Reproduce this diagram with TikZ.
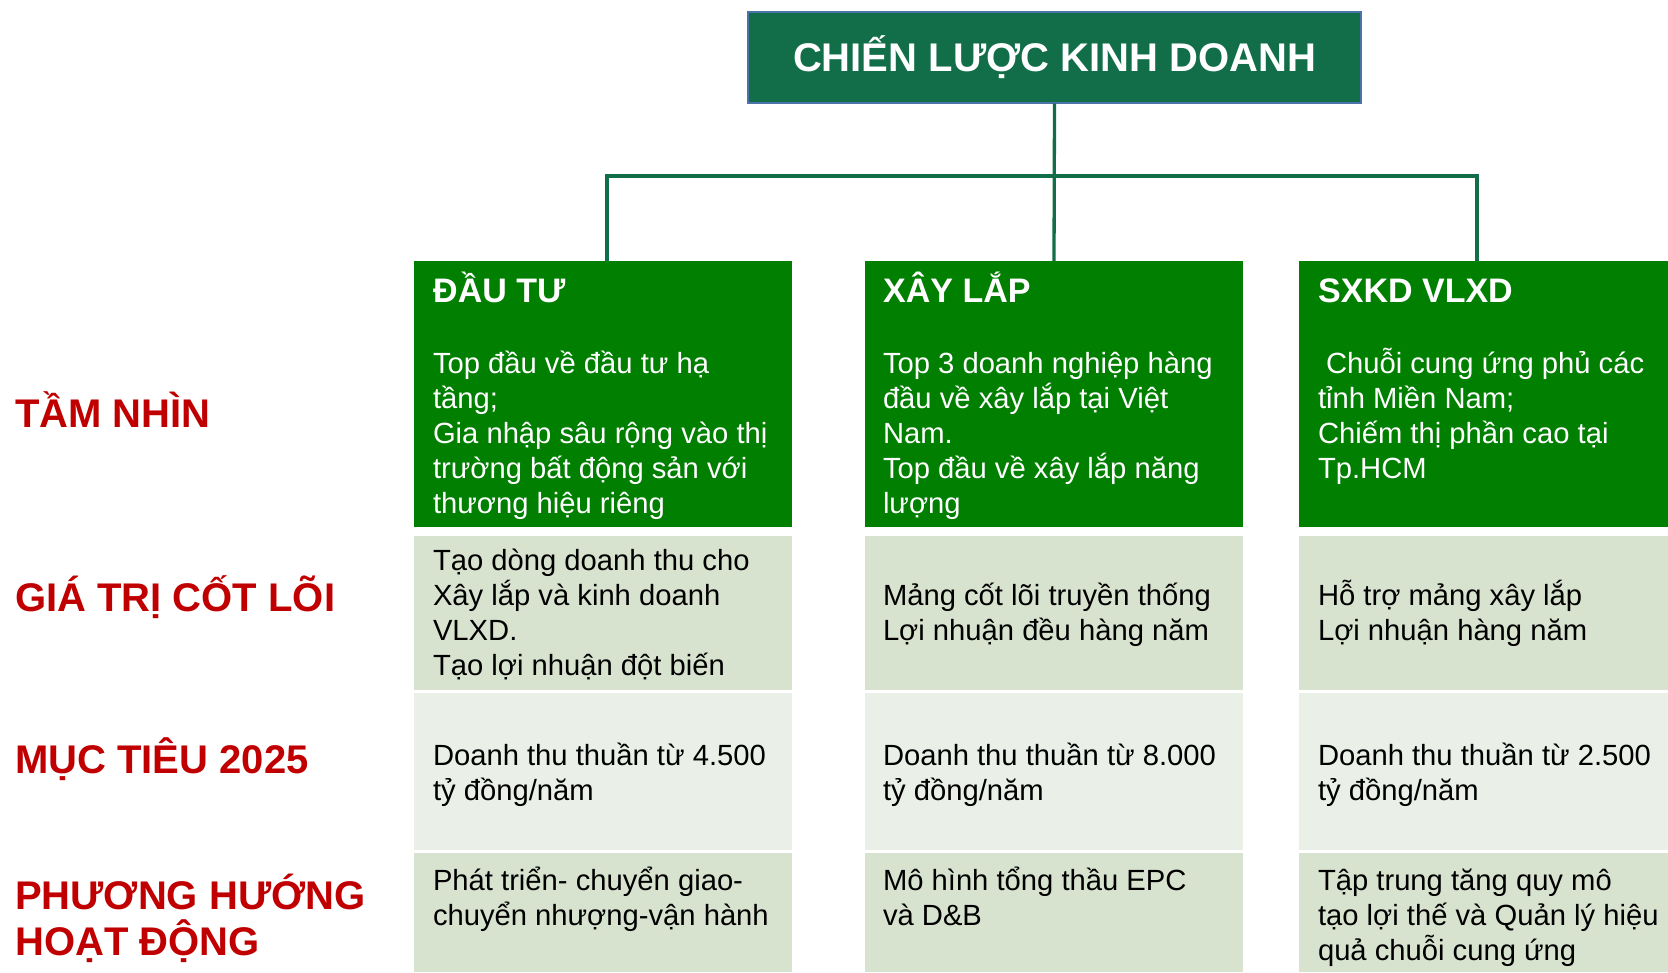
\documentclass[tikz,border=0pt]{standalone}
\usepackage{fontspec}
\setmainfont{Liberation Sans}
\definecolor{topgreen}{HTML}{116E48}
\definecolor{topborder}{HTML}{4A74A8}
\definecolor{hdrgreen}{HTML}{007F00}
\definecolor{sage}{HTML}{D8E3CF}
\definecolor{pale}{HTML}{EAF0E7}
\definecolor{lblred}{HTML}{C00000}
\newcommand\bodyfnt{\fontsize{29.2}{35}\selectfont}
\newcommand\hdrfnt{\fontsize{34}{40}\selectfont\bfseries}
\newcommand\lblfnt{\fontsize{40}{46}\selectfont\bfseries}
\begin{document}
\begin{tikzpicture}[x=1pt,y=-1pt,
  cellbox/.style={rectangle,anchor=north west,inner sep=0pt,outer sep=0pt,draw=none},
  conn/.style={draw=topgreen,line width=3.3pt},
  txt/.style={anchor=base west,inner sep=0pt,outer sep=0pt,font=\bodyfnt},
  hdr/.style={anchor=base west,inner sep=0pt,text=white,font=\hdrfnt},
  lbl/.style={anchor=base west,inner sep=0pt,text=lblred,font=\lblfnt}]
\useasboundingbox (0,0) rectangle (1668,972);

% connectors
\coordinate (bus) at (1054,176);
\coordinate (h1top) at (607,261);
\coordinate (h2top) at (1054,261);
\coordinate (h3top) at (1477,261);

% top box
\node[rectangle,fill=topgreen,draw=topborder,line width=2pt,minimum width=613pt,minimum height=91pt,
  inner sep=0pt,text=white,font=\fontsize{40}{46}\selectfont\bfseries,text height=29pt,text depth=0pt]
  (top) at (1054.5,57) {CHIẾN LƯỢC KINH DOANH};

\draw[conn] (top.south) -- (h2top);
\draw[conn] (h1top) |- (bus) -| (h3top);

% cells: header row
\node[cellbox,fill=hdrgreen,minimum width=378pt,minimum height=266pt] (h1) at (414,261) {};
\node[cellbox,fill=hdrgreen,minimum width=378pt,minimum height=266pt] (h2) at (865,261) {};
\node[cellbox,fill=hdrgreen,minimum width=369pt,minimum height=266pt] (h3) at (1299,261) {};
% core values row
\node[cellbox,fill=sage,minimum width=378pt,minimum height=154pt] (c1) at (414,536) {};
\node[cellbox,fill=sage,minimum width=378pt,minimum height=154pt] (c2) at (865,536) {};
\node[cellbox,fill=sage,minimum width=369pt,minimum height=154pt] (c3) at (1299,536) {};
% target row
\node[cellbox,fill=pale,minimum width=378pt,minimum height=157pt] (m1) at (414,693) {};
\node[cellbox,fill=pale,minimum width=378pt,minimum height=157pt] (m2) at (865,693) {};
\node[cellbox,fill=pale,minimum width=369pt,minimum height=157pt] (m3) at (1299,693) {};
% direction row
\node[cellbox,fill=sage,minimum width=378pt,minimum height=119pt] (p1) at (414,853) {};
\node[cellbox,fill=sage,minimum width=378pt,minimum height=119pt] (p2) at (865,853) {};
\node[cellbox,fill=sage,minimum width=369pt,minimum height=119pt] (p3) at (1299,853) {};

% header titles
\node[hdr] (ht1) at (433,302) {ĐẦU TƯ};
\node[hdr] (ht2) at (883,302) {XÂY LẮP};
\node[hdr] (ht3) at (1318,302) {SXKD VLXD};

% vision texts
\node[txt,text=white] (v1) at (433,373) {\parbox[t]{360pt}{\raggedright Top đầu về đầu tư hạ\\tầng;\\Gia nhập sâu rộng vào thị\\trường bất động sản với\\thương hiệu riêng}};
\node[txt,text=white] (v2) at (883,373) {\parbox[t]{360pt}{\raggedright Top 3 doanh nghiệp hàng\\đầu về xây lắp tại Việt\\Nam.\\Top đầu về xây lắp năng\\lượng}};
\node[txt,text=white] (v3) at (1318,373) {\parbox[t]{350pt}{\raggedright \hspace*{8pt}Chuỗi cung ứng phủ các\\tỉnh Miền Nam;\\Chiếm thị phần cao tại\\Tp.HCM}};

% core value texts
\node[txt] (cv1) at (433,570) {\parbox[t]{360pt}{\raggedright Tạo dòng doanh thu cho\\Xây lắp và kinh doanh\\VLXD.\\Tạo lợi nhuận đột biến}};
\node[txt] (cv2) at (883,605) {\parbox[t]{360pt}{\raggedright Mảng cốt lõi truyền thống\\Lợi nhuận đều hàng năm}};
\node[txt] (cv3) at (1318,605) {\parbox[t]{350pt}{\raggedright Hỗ trợ mảng xây lắp\\Lợi nhuận hàng năm}};

% target texts
\node[txt] (mt1) at (433,765) {\parbox[t]{360pt}{\raggedright Doanh thu thuần từ 4.500\\tỷ đồng/năm}};
\node[txt] (mt2) at (883,765) {\parbox[t]{360pt}{\raggedright Doanh thu thuần từ 8.000\\tỷ đồng/năm}};
\node[txt] (mt3) at (1318,765) {\parbox[t]{350pt}{\raggedright Doanh thu thuần từ 2.500\\tỷ đồng/năm}};

% direction texts
\node[txt] (pt1) at (433,890) {\parbox[t]{360pt}{\raggedright Phát triển- chuyển giao-\\chuyển nhượng-vận hành}};
\node[txt] (pt2) at (883,890) {\parbox[t]{360pt}{\raggedright Mô hình tổng thầu EPC\\và D\&B}};
\node[txt] (pt3) at (1318,890) {\parbox[t]{350pt}{\raggedright Tập trung tăng quy mô\\tạo lợi thế và Quản lý hiệu\\quả chuỗi cung ứng}};

% row labels
\node[lbl] (l1) at (15,427) {TẦM NHÌN};
\node[lbl] (l2) at (15,611) {GIÁ TRỊ CỐT LÕI};
\node[lbl] (l3) at (15,773) {MỤC TIÊU 2025};
\node[lbl] (l4) at (15,909) {\parbox[t]{400pt}{\raggedright PHƯƠNG HƯỚNG\\HOẠT ĐỘNG}};
\end{tikzpicture}
\end{document}
